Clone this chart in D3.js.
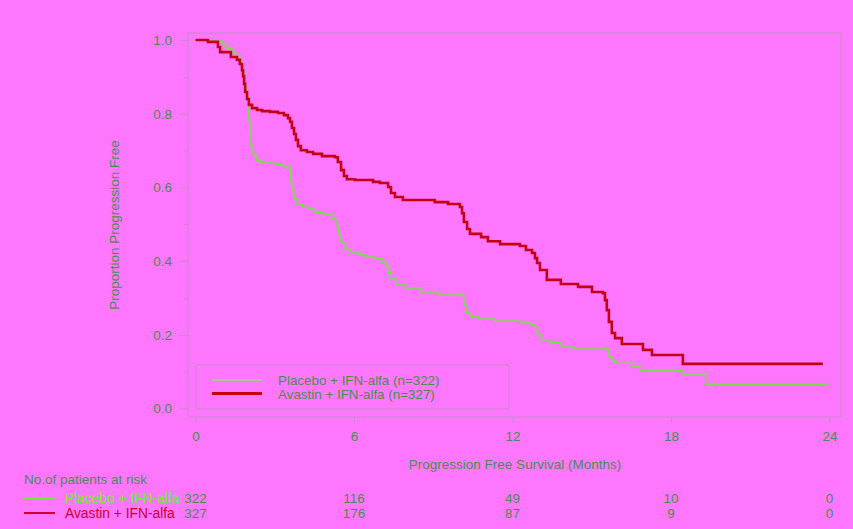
<!DOCTYPE html>
<html>
<head>
<meta charset="utf-8">
<script src="https://cdn.jsdelivr.net/npm/d3@7"></script>
<style>
  body { margin: 0; background: #ff77ff; }
  svg { display: block; font-family: "Liberation Sans", Arial, sans-serif; }
  .axis path, .axis line { stroke: #c98ac9; }
  .axis text { fill: #4a8a50; font-size: 13.5px; }
</style>
</head>
<body>
<svg id="chart" width="853" height="529"></svg>
<script>
// Kaplan-Meier step points (months, proportion progression free)
var avastinMonths = [0, 0.47, 0.85, 0.93, 1.34, 1.57, 1.68, 1.76, 1.80, 1.84, 1.88, 1.95, 2.02, 2.14, 2.33, 2.52, 2.82, 3.12, 3.35, 3.50, 3.58, 3.65, 3.73, 3.80, 3.88, 3.99, 4.22, 4.45, 4.79, 5.28, 5.39, 5.51, 5.62, 5.73, 6.04, 6.72, 6.98, 7.29, 7.40, 7.55, 7.85, 9.06, 9.56, 10.01, 10.09, 10.16, 10.28, 10.39, 10.81, 11.07, 11.53, 12.28, 12.51, 12.74, 12.85, 12.93, 13.04, 13.30, 13.83, 14.48, 15.01, 15.42, 15.50, 15.57, 15.65, 15.76, 15.88, 16.14, 16.94, 17.28, 18.45, 23.75];
var avastinSurv = [1.000, 0.995, 0.981, 0.967, 0.954, 0.946, 0.935, 0.918, 0.902, 0.881, 0.859, 0.840, 0.824, 0.815, 0.810, 0.807, 0.805, 0.802, 0.796, 0.788, 0.778, 0.761, 0.745, 0.729, 0.712, 0.701, 0.696, 0.691, 0.685, 0.682, 0.669, 0.647, 0.631, 0.622, 0.620, 0.615, 0.612, 0.601, 0.585, 0.574, 0.566, 0.560, 0.555, 0.547, 0.530, 0.506, 0.487, 0.474, 0.465, 0.454, 0.446, 0.441, 0.430, 0.422, 0.408, 0.395, 0.376, 0.349, 0.338, 0.330, 0.316, 0.313, 0.294, 0.267, 0.235, 0.205, 0.191, 0.175, 0.159, 0.145, 0.121, 0.121];

var placeboMonths = [0, 0.74, 1.00, 1.19, 1.38, 1.53, 1.68, 1.80, 1.87, 1.91, 1.99, 2.02, 2.06, 2.10, 2.18, 2.29, 2.44, 3.01, 3.31, 3.50, 3.58, 3.61, 3.65, 3.73, 3.84, 4.03, 4.26, 4.52, 4.83, 5.20, 5.36, 5.43, 5.51, 5.62, 5.85, 6.15, 6.42, 6.79, 7.06, 7.21, 7.29, 7.40, 7.59, 7.93, 8.50, 9.18, 10.08, 10.16, 10.24, 10.39, 10.69, 11.34, 12.28, 12.66, 12.85, 12.93, 13.04, 13.42, 13.80, 14.25, 15.57, 15.65, 15.76, 15.95, 16.52, 16.82, 18.45, 19.32, 23.94];
var placeboSurv = [1.000, 0.997, 0.989, 0.978, 0.967, 0.957, 0.940, 0.913, 0.878, 0.845, 0.810, 0.778, 0.745, 0.712, 0.688, 0.674, 0.666, 0.663, 0.658, 0.653, 0.636, 0.615, 0.593, 0.571, 0.555, 0.547, 0.541, 0.533, 0.525, 0.514, 0.495, 0.474, 0.452, 0.433, 0.425, 0.419, 0.411, 0.406, 0.398, 0.387, 0.370, 0.351, 0.338, 0.327, 0.316, 0.308, 0.305, 0.281, 0.259, 0.249, 0.243, 0.237, 0.235, 0.229, 0.221, 0.202, 0.186, 0.178, 0.170, 0.164, 0.161, 0.140, 0.129, 0.123, 0.115, 0.104, 0.094, 0.066, 0.066];

var xTicks = [0, 6, 12, 18, 24];
var yTicks = [0, 0.2, 0.4, 0.6, 0.8, 1.0];
var yMinor = [0.1, 0.3, 0.5, 0.7, 0.9];

var groups = ["Placebo + IFN-alfa", "Avastin + IFN-alfa"];
var groupN = [322, 327];
var atRiskPlacebo = [322, 116, 49, 10, 0];
var atRiskAvastin = [327, 176, 87, 9, 0];

var textColor = "#4a8a50";
var frameColor = "#c98ac9";
var lineColors = ["#7ddc4e", "#c40012"];
var tableColors = ["#66ee33", "#cc0033"];

var svg = d3.select("#chart");

var x = d3.scaleLinear().domain([0, 24]).range([195.5, 829.5]);
var y = d3.scaleLinear().domain([0, 1]).range([408.5, 40]);

// frame
svg.append("rect")
    .attr("x", 188).attr("y", 33)
    .attr("width", 841 - 188).attr("height", 417 - 33)
    .style("fill", "none").style("stroke", frameColor).style("stroke-width", 1);

// y axis (major + minor)
svg.append("g")
    .attr("class", "axis")
    .attr("transform", "translate(188,0)")
    .call(d3.axisLeft(y).tickValues(yMinor).tickSize(4).tickFormat(""))
    .call(function(g) { g.select(".domain").remove(); });

svg.append("g")
    .attr("class", "axis")
    .attr("transform", "translate(188,0)")
    .call(d3.axisLeft(y).tickValues(yTicks).tickSize(9).tickPadding(7).tickFormat(d3.format(".1f")))
    .call(function(g) { g.select(".domain").remove(); });

// x axis
svg.append("g")
    .attr("class", "axis")
    .attr("transform", "translate(0,417)")
    .call(d3.axisBottom(x).tickValues(xTicks).tickSize(6).tickPadding(8))
    .call(function(g) { g.select(".domain").remove(); });

// axis titles
svg.append("text")
    .attr("x", 515).attr("y", 469)
    .attr("text-anchor", "middle")
    .style("fill", textColor).style("font-size", "13.5px")
    .text("Progression Free Survival (Months)");

svg.append("text")
    .attr("transform", "translate(119,225) rotate(-90)")
    .attr("text-anchor", "middle")
    .style("fill", textColor).style("font-size", "13.5px")
    .text("Proportion Progression Free");

// curves
var line = d3.line()
    .x(function(d) { return x(d[0]); })
    .y(function(d) { return y(d[1]); })
    .curve(d3.curveStepAfter);

var curves = [
    d3.zip(placeboMonths, placeboSurv),
    d3.zip(avastinMonths, avastinSurv)
];
var widths = [1.6, 2.6];

svg.append("g").selectAll("path")
    .data(curves)
    .enter()
    .append("path")
    .attr("d", line)
    .style("fill", "none")
    .style("stroke", function(d, i) { return lineColors[i]; })
    .style("stroke-width", function(d, i) { return widths[i]; });

// legend
var legend = svg.append("g");
legend.append("rect")
    .attr("x", 196).attr("y", 365)
    .attr("width", 313).attr("height", 44)
    .style("fill", "none").style("stroke", frameColor);

groups.forEach(function(name, i) {
    var ly = 380 + i * 13.5;
    legend.append("line")
        .attr("x1", 212).attr("x2", 262)
        .attr("y1", ly).attr("y2", ly)
        .style("stroke", i == 0 ? "#8ee070" : lineColors[i])
        .style("stroke-width", i == 0 ? 1.6 : 3);
    legend.append("text")
        .attr("x", 278).attr("y", ly + 5)
        .style("fill", textColor).style("font-size", "13.4px")
        .text(name + " (n=" + groupN[i] + ")");
});

// number at risk table
svg.append("text")
    .attr("x", 24).attr("y", 484)
    .style("fill", textColor).style("font-size", "13.5px")
    .text("No.of patients at risk");

var atRisk = [atRiskPlacebo, atRiskAvastin];
groups.forEach(function(name, i) {
    var ry = 498 + i * 15;
    svg.append("line")
        .attr("x1", 24).attr("x2", 55)
        .attr("y1", ry).attr("y2", ry)
        .style("stroke", tableColors[i])
        .style("stroke-width", 2);
    svg.append("text")
        .attr("x", 65).attr("y", ry + 5)
        .style("fill", tableColors[i]).style("font-size", "13.8px")
        .text(name);
    svg.append("g").selectAll("text")
        .data(atRisk[i])
        .enter()
        .append("text")
        .attr("x", function(d, j) { return x(xTicks[j]); })
        .attr("y", ry + 5)
        .attr("text-anchor", "middle")
        .style("fill", textColor).style("font-size", "13.5px")
        .text(function(d) { return d; });
});
</script>
</body>
</html>
